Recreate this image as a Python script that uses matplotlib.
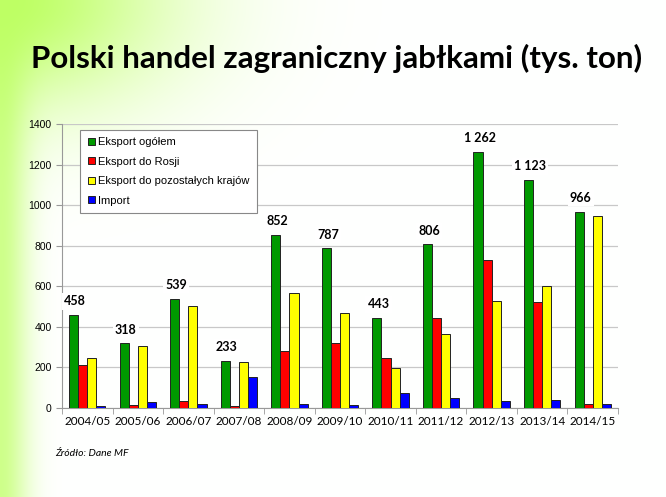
import numpy as np
import matplotlib.pyplot as plt

# dane (tys. ton)
sezony = ["2004/05", "2005/06", "2006/07", "2007/08", "2008/09", "2009/10",
          "2010/11", "2011/12", "2012/13", "2013/14", "2014/15"]
eksport_ogolem = [458, 318, 539, 233, 852, 787, 443, 806, 1262, 1123, 966]
eksport_rosja = [210, 13, 36, 8, 283, 319, 248, 442, 731, 524, 20]
eksport_pozostale = [245, 306, 503, 227, 569, 468, 196, 365, 527, 601, 946]
import_ = [10, 28, 22, 153, 22, 15, 74, 49, 36, 39, 22]
etykiety = ["458", "318", "539", "233", "852", "787", "443", "806", "1 262", "1 123", "966"]

fig = plt.figure(figsize=(6.66, 4.97), dpi=100)

# tlo - miekki zielony gradient z lewej strony
W, H = 666, 497
xx, yy = np.meshgrid(np.arange(W), np.arange(H))
radial = np.exp(-((xx / 170.0) ** 2 + (yy / 110.0) ** 2))
strip = np.exp(-(xx / 28.0) ** 2) * 0.75
g = np.clip(radial + strip * (1 - radial), 0, 1)
zielony = np.array([190, 255, 100]) / 255.0
img = np.ones((H, W, 3)) * (1 - g[..., None]) + zielony * g[..., None]
bg = fig.add_axes([0, 0, 1, 1], zorder=-1)
bg.imshow(img, aspect="auto", extent=[0, 1, 0, 1])
bg.axis("off")

ax = fig.add_axes([62 / W, 1 - 408 / H, (618 - 62) / W, (408 - 124) / H])
ax.set_facecolor("none")

x = np.arange(len(sezony))
w = 0.18
kolory = ["#009900", "#ff0000", "#ffff00", "#0000ff"]
serie = [eksport_ogolem, eksport_rosja, eksport_pozostale, import_]
nazwy = ["Eksport ogółem", "Eksport do Rosji", "Eksport do pozostałych krajów", "Import"]
for i, (s, k, n) in enumerate(zip(serie, kolory, nazwy)):
    ax.bar(x + (i - 1.5) * w, s, w, color=k, edgecolor="#222222", linewidth=0.7,
           label=n, zorder=3)

for xi, v, t in zip(x, eksport_ogolem, etykiety):
    ax.text(xi - 1.5 * w + 0.03, v + 38, t, ha="center", va="bottom", fontsize=9,
            fontweight="bold", family="Lato", zorder=4,
            bbox=dict(facecolor="white", edgecolor="none", pad=1.5))

ax.set_xlim(-0.5, len(sezony) - 0.5)
ax.set_ylim(0, 1400)
ax.set_yticks(range(0, 1401, 200))
ax.yaxis.grid(True, color="#c8c8c8", linewidth=0.9, zorder=0)
ax.set_xticks(x)
ax.set_xticklabels(sezony, fontsize=8.5, family="Lato")
ax.set_xticks(np.arange(-0.5, len(sezony), 1), minor=True)
ax.tick_params(axis="x", which="major", length=0, pad=6)
ax.tick_params(axis="x", which="minor", length=4, color="#999999")
ax.tick_params(axis="y", length=4, color="#999999", labelsize=7.5)
for lab in ax.get_yticklabels():
    lab.set_family("Liberation Sans")
for s in ["top", "right"]:
    ax.spines[s].set_visible(False)
ax.spines["left"].set_color("#999999")
ax.spines["bottom"].set_color("#999999")

leg = ax.legend(loc="upper left", bbox_to_anchor=(0.023, 1.0),
                prop={"family": "Liberation Sans", "size": 8},
                handlelength=0.6, handleheight=0.6, handletextpad=0.3,
                labelspacing=0.85, borderpad=0.7, fancybox=False,
                frameon=True, framealpha=1, edgecolor="#888888")
leg.get_frame().set_linewidth(0.8)

fig.text(0.505, 1 - 58 / H, "Polski handel zagraniczny jabłkami (tys. ton)",
         ha="center", va="center", fontsize=22.5, fontweight="bold", family="Lato")
fig.text(55 / W, 1 - 453 / H, "Źródło: Dane MF", fontsize=7.5, style="italic",
         family="Lato", va="center")

fig.savefig("out.png", dpi=100)
